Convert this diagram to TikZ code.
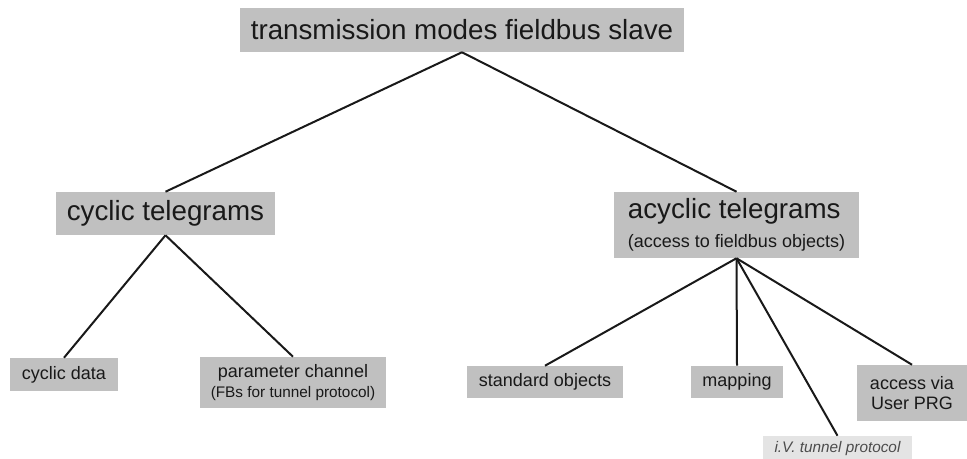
\documentclass[tikz,border=0pt]{standalone}
\usepackage{fontspec}
\setmainfont{Liberation Sans}
\definecolor{boxgrey}{HTML}{C0C0C0}
\definecolor{boxlight}{HTML}{E4E4E4}
\newcommand{\bigtxt}{\fontsize{20.8}{24}\selectfont}
\newcommand{\midtxt}{\fontsize{13.5}{15}\selectfont}
\newcommand{\smalltxt}{\fontsize{11.5}{15}\selectfont}
\tikzset{
	modebox/.style = {fill=boxgrey, inner sep=0pt, align=center, text=black!90},
	lightbox/.style = {fill=boxlight, inner sep=0pt, align=center, text=black!70},
	branch/.style = {line width=1.5pt, black!90}
}

\begin{document}
\begin{tikzpicture}[x=0.75pt, y=-0.75pt]
		\clip (0, 0) rectangle (967, 459);
		%%%%%%%%%%%%%
		\node[modebox, minimum width=333pt, minimum height=33pt] (top) at (462, 30) {\bigtxt transmission modes fieldbus slave};
		\node[modebox, minimum width=164.25pt, minimum height=32.25pt] (cyc) at (165.5, 213.5) {\bigtxt cyclic telegrams};
		\node[modebox, minimum width=183.75pt, minimum height=49.5pt, align=left] (acyc) at (736.5, 225) {\bigtxt acyclic telegrams\\[6.5pt]\midtxt (access to fieldbus objects)};
		%%%%%%%%%%%%%
		\node[modebox, minimum width=81pt, minimum height=24.75pt] (cdata) at (64, 374.5) {\midtxt cyclic data};
		\node[modebox, minimum width=139.5pt, minimum height=38.25pt] (param) at (293, 382.5) {\midtxt parameter channel\\[3pt]\smalltxt (FBs for tunnel protocol)};
		\node[modebox, minimum width=117pt, minimum height=24pt] (std) at (545, 382) {\midtxt standard objects};
		\node[modebox, minimum width=69pt, minimum height=24pt] (map) at (737, 382) {\midtxt mapping};
		\node[modebox, minimum width=82.5pt, minimum height=42pt] (user) at (912, 393) {\midtxt access via\\[3pt]\midtxt User PRG};
		\node[lightbox, minimum width=111.75pt, minimum height=19.5pt] (tunnel) at (837.5, 449) {\smalltxt\itshape i.V. tunnel protocol};
		%%%%%%%%%%%%%
		\draw[branch] (top.south) to (cyc.north); \draw[branch] (top.south) to (acyc.north);
		\draw[branch] (cyc.south) to (cdata.north); \draw[branch] (cyc.south) to (param.north);
		\draw[branch] (acyc.south) to (std.north); \draw[branch] (acyc.south) to (map.north);
		\draw[branch] (acyc.south) to (tunnel.north); \draw[branch] (acyc.south) to (user.north);
\end{tikzpicture}
\end{document}
